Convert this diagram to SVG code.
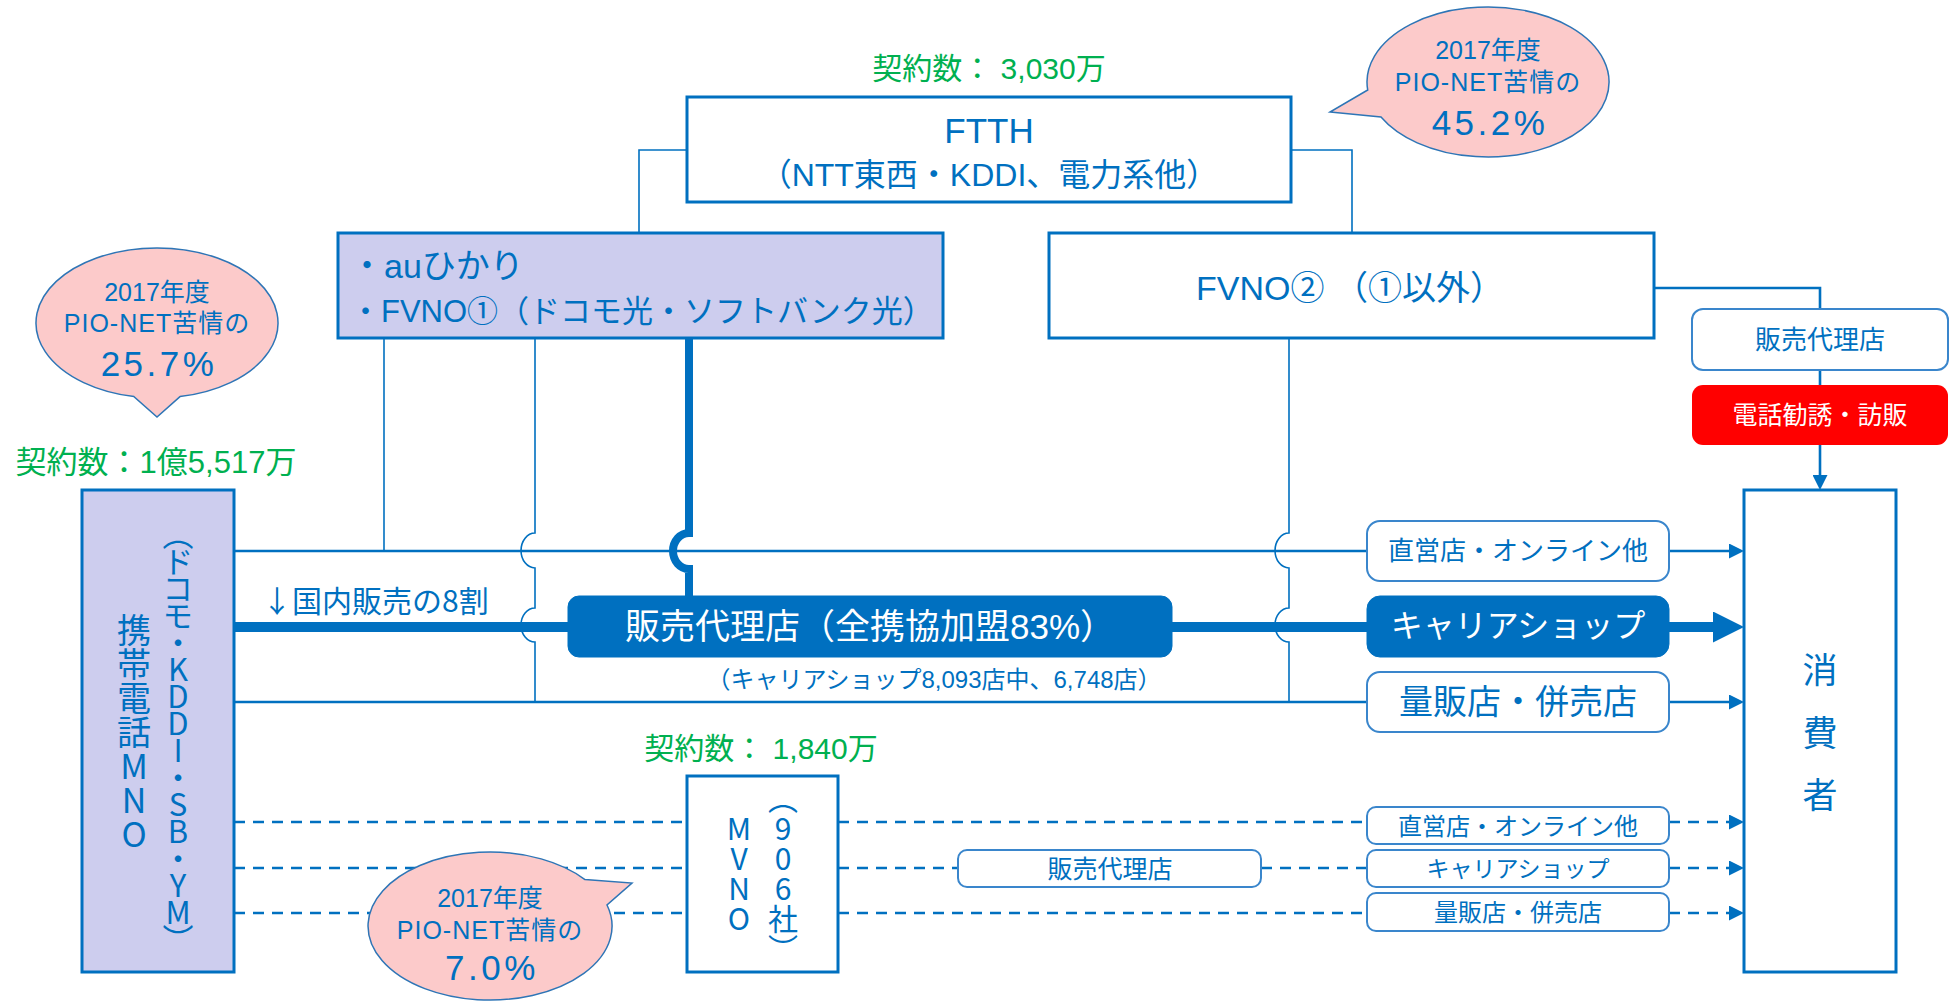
<svg xmlns="http://www.w3.org/2000/svg" width="1954" height="1001" viewBox="0 0 1954 1001">
<style>
.t{font-family:"Liberation Sans","Noto Sans CJK JP",sans-serif;fill:#0070C0;dominant-baseline:central;text-anchor:middle}
.s{text-anchor:start}
.cj{font-family:"Noto Sans CJK JP","Liberation Sans",sans-serif}
.w{fill:#FFFFFF}
.g{fill:#00B050}
.vt{font-family:"Noto Sans CJK JP",sans-serif;fill:#0070C0;writing-mode:vertical-rl;text-orientation:upright;text-anchor:middle}
.box{fill:#FFFFFF;stroke:#0070C0;stroke-width:3}
.lav{fill:#CDCDEE;stroke:#0070C0;stroke-width:3}
.rbox{fill:#FFFFFF;stroke:#3A86CC;stroke-width:2}
.fbox{fill:#0070C0;stroke:#0070C0;stroke-width:1}
.bub{fill:#FCCACA;stroke:#2E75B6;stroke-width:1.5}
.ln{fill:none;stroke:#0070C0}
.thin{stroke-width:1.6}
.mid{stroke-width:2.6}
.thick{stroke-width:10}
.vthick{stroke-width:8}
.dash{stroke-width:2.6;stroke-dasharray:11 8}
</style>
<defs>
<marker id="arr" markerUnits="userSpaceOnUse" viewBox="0 0 15 15" refX="11" refY="7.5" markerWidth="15" markerHeight="15" orient="auto">
<path d="M0,0 L15,7.5 L0,15 Z" fill="#0070C0"/>
</marker>
<marker id="arrBig" markerUnits="userSpaceOnUse" viewBox="0 0 31 31" refX="7" refY="15.5" markerWidth="31" markerHeight="31" orient="auto">
<path d="M0,0 L31,15.5 L0,31 Z" fill="#0070C0"/>
</marker>
</defs>

<g id="connectors">
<path class="ln thin" d="M687,150 H639 V233"/>
<path class="ln thin" d="M1291,150 H1352 V233"/>
<path class="ln mid" d="M1654,288 H1820 V309"/>
<path class="ln mid" d="M1820,370 V385"/>
<path class="ln mid" d="M1820,445 V486" marker-end="url(#arr)"/>
<path class="ln thin" d="M384,338 V551"/>
<path class="ln thin" d="M535,338 V533 A14,17.5 0 0 0 535,568 V608 A14,17 0 0 0 535,642 V702"/>
<path class="ln thin" d="M1289,338 V533 A14,17.5 0 0 0 1289,568 V608 A14,17 0 0 0 1289,642 V702"/>
<path class="ln vthick" d="M689,338 V533 A16,18 0 0 0 689,569 V597"/>
<path class="ln mid" d="M234,551 H1367"/>
<path class="ln mid" d="M1669,551 H1740" marker-end="url(#arr)"/>
<path class="ln thick" d="M234,627 H570"/>
<path class="ln thick" d="M1170,627 H1369"/>
<path class="ln thick" d="M1667,627 H1720" marker-end="url(#arrBig)"/>
<path class="ln mid" d="M234,702 H1367"/>
<path class="ln mid" d="M1669,702 H1740" marker-end="url(#arr)"/>
<path class="ln dash" d="M234,822 H687 M838,822 H1367"/>
<path class="ln dash" d="M1669,822 H1740" marker-end="url(#arr)"/>
<path class="ln dash" d="M234,868 H687 M838,868 H958 M1261,868 H1367"/>
<path class="ln dash" d="M1669,868 H1740" marker-end="url(#arr)"/>
<path class="ln dash" d="M234,913 H687 M838,913 H1367"/>
<path class="ln dash" d="M1669,913 H1740" marker-end="url(#arr)"/>
</g>

<g id="ftth-count"><text class="t g" x="989" y="68" font-size="30">契約数： 3,030万</text></g>

<g id="ftth">
<rect class="box" x="687" y="97" width="604" height="105"/>
<text class="t" x="989" y="130" font-size="35">FTTH</text>
<text class="t" x="989" y="175" font-size="32">（NTT東西・KDDI、電力系他）</text>
</g>

<g id="bubble-ftth">
<path class="bub" d="M1367.7,90 L1330,112 L1381,117 A121,75 0 1 0 1367.7,90 Z"/>
<text class="t" x="1488" y="50" font-size="25">2017年度</text>
<text class="t" x="1488" y="82" font-size="25" letter-spacing="1">PIO-NET苦情の</text>
<text class="t" x="1490" y="122" font-size="35" letter-spacing="3.5">45.2%</text>
</g>

<g id="au-fvno1">
<rect class="lav" x="338" y="233" width="605" height="105"/>
<text class="t s" x="350" y="266" font-size="34">・auひかり</text>
<text class="t s" x="350" y="311" font-size="31">・FVNO①（ドコモ光・ソフトバンク光）</text>
</g>

<g id="fvno2">
<rect class="box" x="1049" y="233" width="605" height="105"/>
<text class="t" x="1350" y="288" font-size="34">FVNO② （①以外）</text>
</g>

<g id="agency-top">
<rect class="rbox" x="1692" y="309" width="256" height="61" rx="11"/>
<text class="t" x="1820" y="340" font-size="26">販売代理店</text>
</g>

<g id="telesales">
<rect x="1692" y="385" width="256" height="60" rx="11" fill="#FF0000"/>
<text class="t w" x="1820" y="415" font-size="25">電話勧誘・訪販</text>
</g>

<g id="consumer">
<rect class="box" x="1744" y="490" width="152" height="482"/>
<text class="t" font-size="35"><tspan x="1820" y="670">消</tspan><tspan x="1820" y="733">費</tspan><tspan x="1820" y="795">者</tspan></text>
</g>

<g id="mno-count"><text class="t g" x="156" y="462" font-size="31">契約数：1億5,517万</text></g>

<g id="bubble-mno">
<path class="bub" d="M180,396.6 L157,417 L134,396.6 A121,75 0 1 1 180,396.6 Z"/>
<text class="t" x="157" y="292" font-size="25">2017年度</text>
<text class="t" x="157" y="323" font-size="25" letter-spacing="1">PIO-NET苦情の</text>
<text class="t" x="159" y="363" font-size="35" letter-spacing="3.5">25.7%</text>
</g>

<g id="mno">
<rect class="lav" x="82" y="490" width="152" height="482"/>
<text class="vt" x="134" y="732" font-size="34">携帯電話MNO</text>
<text class="vt" x="178" y="735" font-size="31" letter-spacing="-4">（ドコモ・KDDI・SB・YM）</text>
</g>

<g id="label-80"><text class="t s cj" x="262" y="599" font-size="30">↓国内販売の8割</text></g>

<g id="agency-main">
<rect class="fbox" x="568" y="596" width="604" height="61" rx="11"/>
<text class="t w" x="870" y="626" font-size="35">販売代理店（全携協加盟83%）</text>
</g>

<g id="agency-note"><text class="t" x="934" y="679" font-size="24">（キャリアショップ8,093店中、6,748店）</text></g>

<g id="direct">
<rect class="rbox" x="1367" y="521" width="302" height="60" rx="13"/>
<text class="t" x="1518" y="551" font-size="26">直営店・オンライン他</text>
</g>

<g id="carrier-shop">
<rect class="fbox" x="1367" y="596" width="302" height="61" rx="13"/>
<text class="t w" x="1518" y="626" font-size="32">キャリアショップ</text>
</g>

<g id="mass">
<rect class="rbox" x="1367" y="672" width="302" height="60" rx="13"/>
<text class="t" x="1518" y="702" font-size="34">量販店・併売店</text>
</g>

<g id="mvno-count"><text class="t g" x="761" y="748" font-size="30">契約数： 1,840万</text></g>

<g id="mvno">
<rect class="box" x="687" y="776" width="151" height="196"/>
<text class="vt" x="739" y="874" font-size="30">MVNO</text>
<text class="vt" x="783" y="874" font-size="30">（906社）</text>
</g>

<g id="mvno-agency">
<rect class="rbox" x="958" y="850" width="303" height="37" rx="9"/>
<text class="t" x="1110" y="869" font-size="25">販売代理店</text>
</g>

<g id="mvno-direct">
<rect class="rbox" x="1367" y="807" width="302" height="37" rx="9"/>
<text class="t" x="1518" y="826" font-size="24">直営店・オンライン他</text>
</g>

<g id="mvno-shop">
<rect class="rbox" x="1367" y="850" width="302" height="37" rx="9"/>
<text class="t" x="1518" y="869" font-size="23">キャリアショップ</text>
</g>

<g id="mvno-mass">
<rect class="rbox" x="1367" y="893" width="302" height="38" rx="9"/>
<text class="t" x="1518" y="912" font-size="24">量販店・併売店</text>
</g>

<g id="bubble-mvno">
<path class="bub" d="M585,879.6 L632,883 L607,905 A122,74 0 1 1 585,879.6 Z"/>
<text class="t" x="490" y="898" font-size="25">2017年度</text>
<text class="t" x="490" y="930" font-size="25" letter-spacing="1">PIO-NET苦情の</text>
<text class="t" x="492" y="967" font-size="35" letter-spacing="3.5">7.0%</text>
</g>
</svg>
